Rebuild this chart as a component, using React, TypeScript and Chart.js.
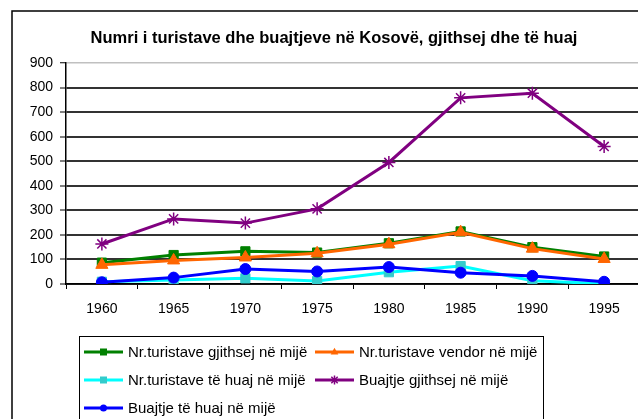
import React, { useEffect, useRef } from "react";
import { Chart, registerables } from "chart.js";

Chart.register(...registerables);

const years = ["1960", "1965", "1970", "1975", "1980", "1985", "1990", "1995"];
const turistetGjithsej = [87, 118, 133, 128, 166, 214, 150, 112];
const turistetVendor = [78, 96, 108, 125, 162, 211, 144, 102];
const turistetHuaj = [9, 16, 23, 12, 48, 73, 13, 1];
const buajtjeGjithsej = [163, 265, 248, 306, 495, 758, 777, 560];
const buajtjeHuaj = [7, 26, 61, 51, 69, 46, 33, 9];

const titleText = "Numri i turistave dhe buajtjeve në Kosovë, gjithsej dhe të huaj";
const labels = [
  "Nr.turistave gjithsej në mijë",
  "Nr.turistave vendor në mijë",
  "Nr.turistave të huaj në mijë",
  "Buajtje gjithsej në mijë",
  "Buajtje të huaj në mijë",
];

const FONT = "'Liberation Sans', Arial, sans-serif";

function drawMarker(ctx: CanvasRenderingContext2D, style: string, x: number, y: number, r: number, fill: string, stroke: string) {
  ctx.save();
  ctx.fillStyle = fill;
  ctx.strokeStyle = stroke;
  ctx.lineWidth = 1.5;
  ctx.beginPath();
  if (style === "rect") {
    ctx.rect(x - r, y - r, 2 * r, 2 * r);
    ctx.fill();
  } else if (style === "triangle") {
    ctx.moveTo(x, y - r * 1.2);
    ctx.lineTo(x + r * 1.1, y + r * 0.7);
    ctx.lineTo(x - r * 1.1, y + r * 0.7);
    ctx.closePath();
    ctx.fill();
  } else if (style === "circle") {
    ctx.arc(x, y, r, 0, Math.PI * 2);
    ctx.fill();
  } else if (style === "star") {
    for (let i = 0; i < 4; i++) {
      const a = (i * Math.PI) / 4;
      ctx.moveTo(x - Math.cos(a) * r, y - Math.sin(a) * r);
      ctx.lineTo(x + Math.cos(a) * r, y + Math.sin(a) * r);
    }
    ctx.stroke();
  }
  ctx.restore();
}

const decorPlugin = {
  id: "decor",
  beforeDraw(chart: any) {
    const ctx = chart.ctx as CanvasRenderingContext2D;
    ctx.save();
    ctx.fillStyle = "#fff";
    ctx.fillRect(0, 0, chart.width, chart.height);
    ctx.strokeStyle = "#000";
    ctx.lineWidth = 1.5;
    ctx.strokeRect(12, 11, chart.width + 20, chart.height + 20);
    ctx.restore();
  },
  afterDraw(chart: any) {
    const ctx = chart.ctx as CanvasRenderingContext2D;
    ctx.save();
    // title
    ctx.fillStyle = "#000";
    ctx.font = `bold 16.5px ${FONT}`;
    ctx.textAlign = "center";
    ctx.textBaseline = "middle";
    ctx.fillText(titleText, 334, 38);
    // legend box
    ctx.strokeStyle = "#000";
    ctx.lineWidth = 1;
    ctx.strokeRect(79.5, 336.5, 464, 100);
    const pos = [
      [84, 352],
      [315, 352],
      [84, 380],
      [315, 380],
      [84, 408],
    ];
    const sets = chart.data.datasets;
    ctx.font = `15px ${FONT}`;
    ctx.textAlign = "left";
    sets.forEach((ds: any, i: number) => {
      const [x, y] = pos[i];
      ctx.strokeStyle = ds.borderColor;
      ctx.lineWidth = 3;
      ctx.beginPath();
      ctx.moveTo(x, y);
      ctx.lineTo(x + 39, y);
      ctx.stroke();
      drawMarker(ctx, ds.pointStyle, x + 19.5, y, ds.pointStyle === "star" ? 4.5 : 3.5, ds.pointBackgroundColor, ds.pointBorderColor);
      ctx.fillStyle = "#000";
      ctx.fillText(ds.label, x + 44, y + 1);
    });
    ctx.restore();
  },
};

export default function App() {
  const ref = useRef<HTMLCanvasElement>(null);
  useEffect(() => {
    const mk = (label: string, data: number[], line: string, fill: string, style: string, radius: number, order: number) => ({
      label,
      data,
      borderColor: line,
      backgroundColor: fill,
      pointBackgroundColor: fill,
      pointBorderColor: style === "star" ? line : fill,
      pointBorderWidth: style === "star" ? 1.5 : 1,
      pointStyle: style,
      pointRadius: radius,
      borderWidth: 3,
      tension: 0,
      order,
    });
    const chart = new Chart(ref.current!, {
      type: "line",
      data: {
        labels: years,
        datasets: [
          mk(labels[0], turistetGjithsej, "#008000", "#008000", "rect", 6.5, 5),
          mk(labels[1], turistetVendor, "#ff6600", "#ff6600", "triangle", 7, 4),
          mk(labels[2], turistetHuaj, "#00ffff", "#33cccc", "rect", 6.5, 3),
          mk(labels[3], buajtjeGjithsej, "#800080", "#800080", "star", 6.5, 2),
          mk(labels[4], buajtjeHuaj, "#0000ff", "#0000ff", "circle", 5.5, 1),
        ] as any,
      },
      options: {
        responsive: false,
        animation: false,
        events: [],
        layout: { autoPadding: false, padding: { top: 63, left: 0, right: 1, bottom: 0 } },
        plugins: { legend: { display: false }, title: { display: false }, tooltip: { enabled: false } },
        scales: {
          x: {
            offset: true,
            afterFit: (s: any) => { s.height = 135; s.paddingLeft = 0; s.paddingRight = 0; },
            grid: {
              offset: true,
              drawOnChartArea: false,
              drawTicks: true,
              tickLength: 5,
              tickColor: "#000",
              tickWidth: 1,
            },
            border: { color: "#000", width: 1.5 },
            ticks: { color: "#000", font: { family: FONT, size: 14 }, padding: 12, maxRotation: 0 },
          },
          y: {
            min: 0,
            max: 900,
            afterFit: (s: any) => { s.width = 66; s.paddingTop = 0; s.paddingBottom = 0; },
            grid: {
              color: (c: any) => (c.tick && c.tick.value === 900 ? "#c0c0c0" : "#333"),
              lineWidth: (c: any) => (c.tick && c.tick.value === 900 ? 1.5 : 2),
              drawTicks: true,
              tickLength: 6,
              tickColor: "#000",
              tickWidth: 1,
            },
            border: { color: "#000", width: 1.5 },
            ticks: { stepSize: 100, color: "#000", font: { family: FONT, size: 14 }, padding: 7 },
          },
        },
      },
      plugins: [decorPlugin],
    });
    return () => chart.destroy();
  }, []);
  return (
    <div style={{ position: "fixed", left: 0, top: 0, width: 638, height: 419, overflow: "hidden", background: "#fff" }}>
      <canvas ref={ref} width={641} height={419} style={{ display: "block" }} />
    </div>
  );
}
